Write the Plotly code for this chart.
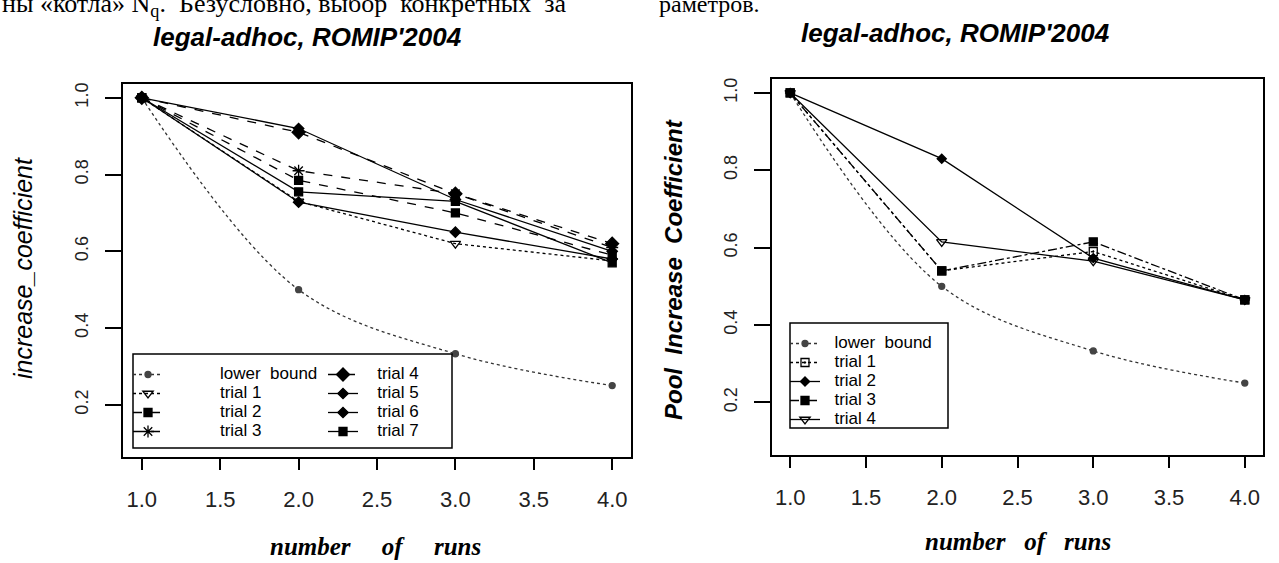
import plotly.graph_objects as go

# ---------------- data ----------------
runs = [1, 2, 3, 4]
x_ticks = [1.0, 1.5, 2.0, 2.5, 3.0, 3.5, 4.0]
x_tick_text = ["1.0", "1.5", "2.0", "2.5", "3.0", "3.5", "4.0"]
y_ticks = [0.2, 0.4, 0.6, 0.8, 1.0]
y_tick_text = ["0.2", "0.4", "0.6", "0.8", "1.0"]

lower_bound = [1.0, 0.5, 0.333, 0.25]

left_trial1 = [1.0, 0.73, 0.62, 0.575]
left_trial2 = [1.0, 0.785, 0.70, 0.59]
left_trial3 = [1.0, 0.81, 0.75, 0.61]
left_trial4 = [1.0, 0.91, 0.75, 0.62]
left_trial5 = [1.0, 0.92, 0.735, 0.60]
left_trial6 = [1.0, 0.728, 0.65, 0.58]
left_trial7 = [1.0, 0.755, 0.73, 0.57]

right_trial1 = [1.0, 0.54, 0.59, 0.465]
right_trial2 = [1.0, 0.83, 0.573, 0.465]
right_trial3 = [1.0, 0.54, 0.615, 0.465]
right_trial4 = [1.0, 0.615, 0.565, 0.465]

W, H = 1279, 563


def px(x):
    return x / W


def py(y):
    return 1 - y / H


def lab(text, pad=0):
    return '<span style="font-size:17px">' + "\u00a0" * pad + text + "</span>"


fig = go.Figure()


def add(xa, ya, y, name, dash, symbol, size, legend, shape="linear", color="black", mcolor="black"):
    fig.add_trace(go.Scatter(
        x=runs, y=y, name=name, xaxis=xa, yaxis=ya, mode="lines+markers",
        line=dict(color=color, width=1.3, dash=dash, shape=shape),
        marker=dict(symbol=symbol, size=size, color=mcolor,
                    line=dict(color=mcolor, width=1.3)),
        legend=legend,
    ))


# left panel
P1, P2 = 11, 3
add("x", "y", lower_bound, lab("lower\u00a0\u00a0bound", P1), "dot", "circle", 6, "legend", "spline", "#333", "#444")
add("x", "y", left_trial1, lab("trial\u00a01", P1), "dot", "triangle-down-open", 9, "legend")
add("x", "y", left_trial2, lab("trial\u00a02", P1), "dash", "square", 8, "legend")
add("x", "y", left_trial3, lab("trial\u00a03", P1), "dash", "asterisk-open", 10, "legend")
add("x", "y", left_trial4, lab("trial\u00a04", P2), "dash", "diamond-cross", 10, "legend2")
add("x", "y", left_trial5, lab("trial\u00a05", P2), "solid", "diamond", 8, "legend2")
add("x", "y", left_trial6, lab("trial\u00a06", P2), "solid", "diamond", 8, "legend2")
add("x", "y", left_trial7, lab("trial\u00a07", P2), "solid", "square", 8, "legend2")

# right panel
P3 = 2
add("x2", "y2", lower_bound, lab("lower\u00a0\u00a0bound", P3), "dot", "circle", 6, "legend3", "spline", "#333", "#444")
add("x2", "y2", right_trial1, lab("trial\u00a01", P3), "dot", "square-open-dot", 8, "legend3")
add("x2", "y2", right_trial2, lab("trial\u00a02", P3), "solid", "diamond", 7, "legend3")
add("x2", "y2", right_trial3, lab("trial\u00a03", P3), "dashdot", "square", 8, "legend3")
add("x2", "y2", right_trial4, lab("trial\u00a04", P3), "solid", "triangle-down-open", 9, "legend3")

xcommon = dict(range=[0.88, 4.12], tickvals=x_ticks, ticktext=x_tick_text,
               showline=True, linecolor="black", linewidth=1.5, mirror=True,
               ticks="outside", ticklen=11, tickwidth=1.5, tickcolor="black",
               showgrid=False, zeroline=False,
               tickfont=dict(family="Liberation Sans", size=22, color="#222"),
               ticklabelstandoff=11)
ycommon = dict(range=[0.064, 1.036], tickvals=y_ticks, ticktext=y_tick_text,
               showline=True, linecolor="black", linewidth=1.5, mirror=True,
               ticks="outside", ticklen=16, tickwidth=1.5, tickcolor="black",
               showgrid=False, zeroline=False, tickangle=-90,
               tickfont=dict(family="Liberation Sans", size=18, color="#222"),
               ticklabelstandoff=10)

legfont = dict(family="Liberation Sans", size=12, color="black")
legcommon = dict(font=legfont, bgcolor="rgba(0,0,0,0)", borderwidth=0,
                 tracegroupgap=0, xanchor="left", yanchor="top", itemwidth=30)

fig.update_layout(
    width=W, height=H,
    margin=dict(l=0, r=0, t=0, b=0),
    paper_bgcolor="white", plot_bgcolor="white",
    template="none",
    xaxis=dict(domain=[px(123), px(631)], anchor="y", **xcommon),
    yaxis=dict(domain=[py(457), py(84)], anchor="x", **ycommon),
    xaxis2=dict(domain=[px(772), px(1263)], anchor="y2", **xcommon),
    yaxis2=dict(domain=[py(455), py(79)], anchor="x2", **ycommon),
    legend=dict(x=px(128), y=py(360), **legcommon),
    legend2=dict(x=px(323), y=py(360), **legcommon),
    legend3=dict(x=px(785), y=py(329), **legcommon),
    showlegend=True,
    shapes=[
        dict(type="rect", xref="paper", yref="paper", x0=px(133), x1=px(452),
             y0=py(448), y1=py(354), line=dict(color="black", width=1.5)),
        dict(type="rect", xref="paper", yref="paper", x0=px(790), x1=px(948),
             y0=py(428), y1=py(323), line=dict(color="black", width=1.5)),
    ],
)

title_font = dict(family="Liberation Sans", size=26, color="black", weight="bold", style="italic")
xt_font = dict(family="Liberation Serif", size=25, color="black", weight="bold", style="italic")
ann = [
    dict(text="legal-adhoc, ROMIP'2004", x=px(307), y=py(37), font=title_font),
    dict(text="legal-adhoc, ROMIP'2004", x=px(955), y=py(33), font=title_font),
    dict(text="number" + "\u00a0" * 5 + "of" + "\u00a0" * 5 + "runs", x=px(375), y=py(546), font=xt_font),
    dict(text="number\u00a0\u00a0\u00a0of\u00a0\u00a0\u00a0runs", x=px(1018), y=py(541), font=xt_font),
    dict(text="increase_coefficient", x=px(23), y=py(268), textangle=-90,
         font=dict(family="Liberation Sans", size=25, color="black", style="italic")),
    dict(text="Pool\u00a0\u00a0Increase\u00a0\u00a0Coefficient", x=px(673), y=py(270), textangle=-90,
         font=dict(family="Liberation Sans", size=24, color="black", style="italic", weight="bold")),
]
for a in ann:
    fig.add_annotation(xref="paper", yref="paper", showarrow=False,
                       xanchor="center", yanchor="middle", **a)

body_font = dict(family="Liberation Serif", size=26, color="black")
fig.add_annotation(
    text="ны «котла» N<sub>q</sub>.\u00a0\u00a0Безусловно, выбор\u00a0\u00a0конкретных\u00a0\u00a0за",
    xref="paper", yref="paper", x=px(0), y=py(23), xanchor="left", yanchor="bottom",
    showarrow=False, font=body_font)
fig.add_annotation(
    text="раметров.", xref="paper", yref="paper", x=px(657), y=py(19),
    xanchor="left", yanchor="bottom", showarrow=False,
    font=dict(family="Liberation Serif", size=24, color="black"))

fig.write_html("out.html", config={"displayModeBar": False},
               post_script="document.body.style.margin='0';")
